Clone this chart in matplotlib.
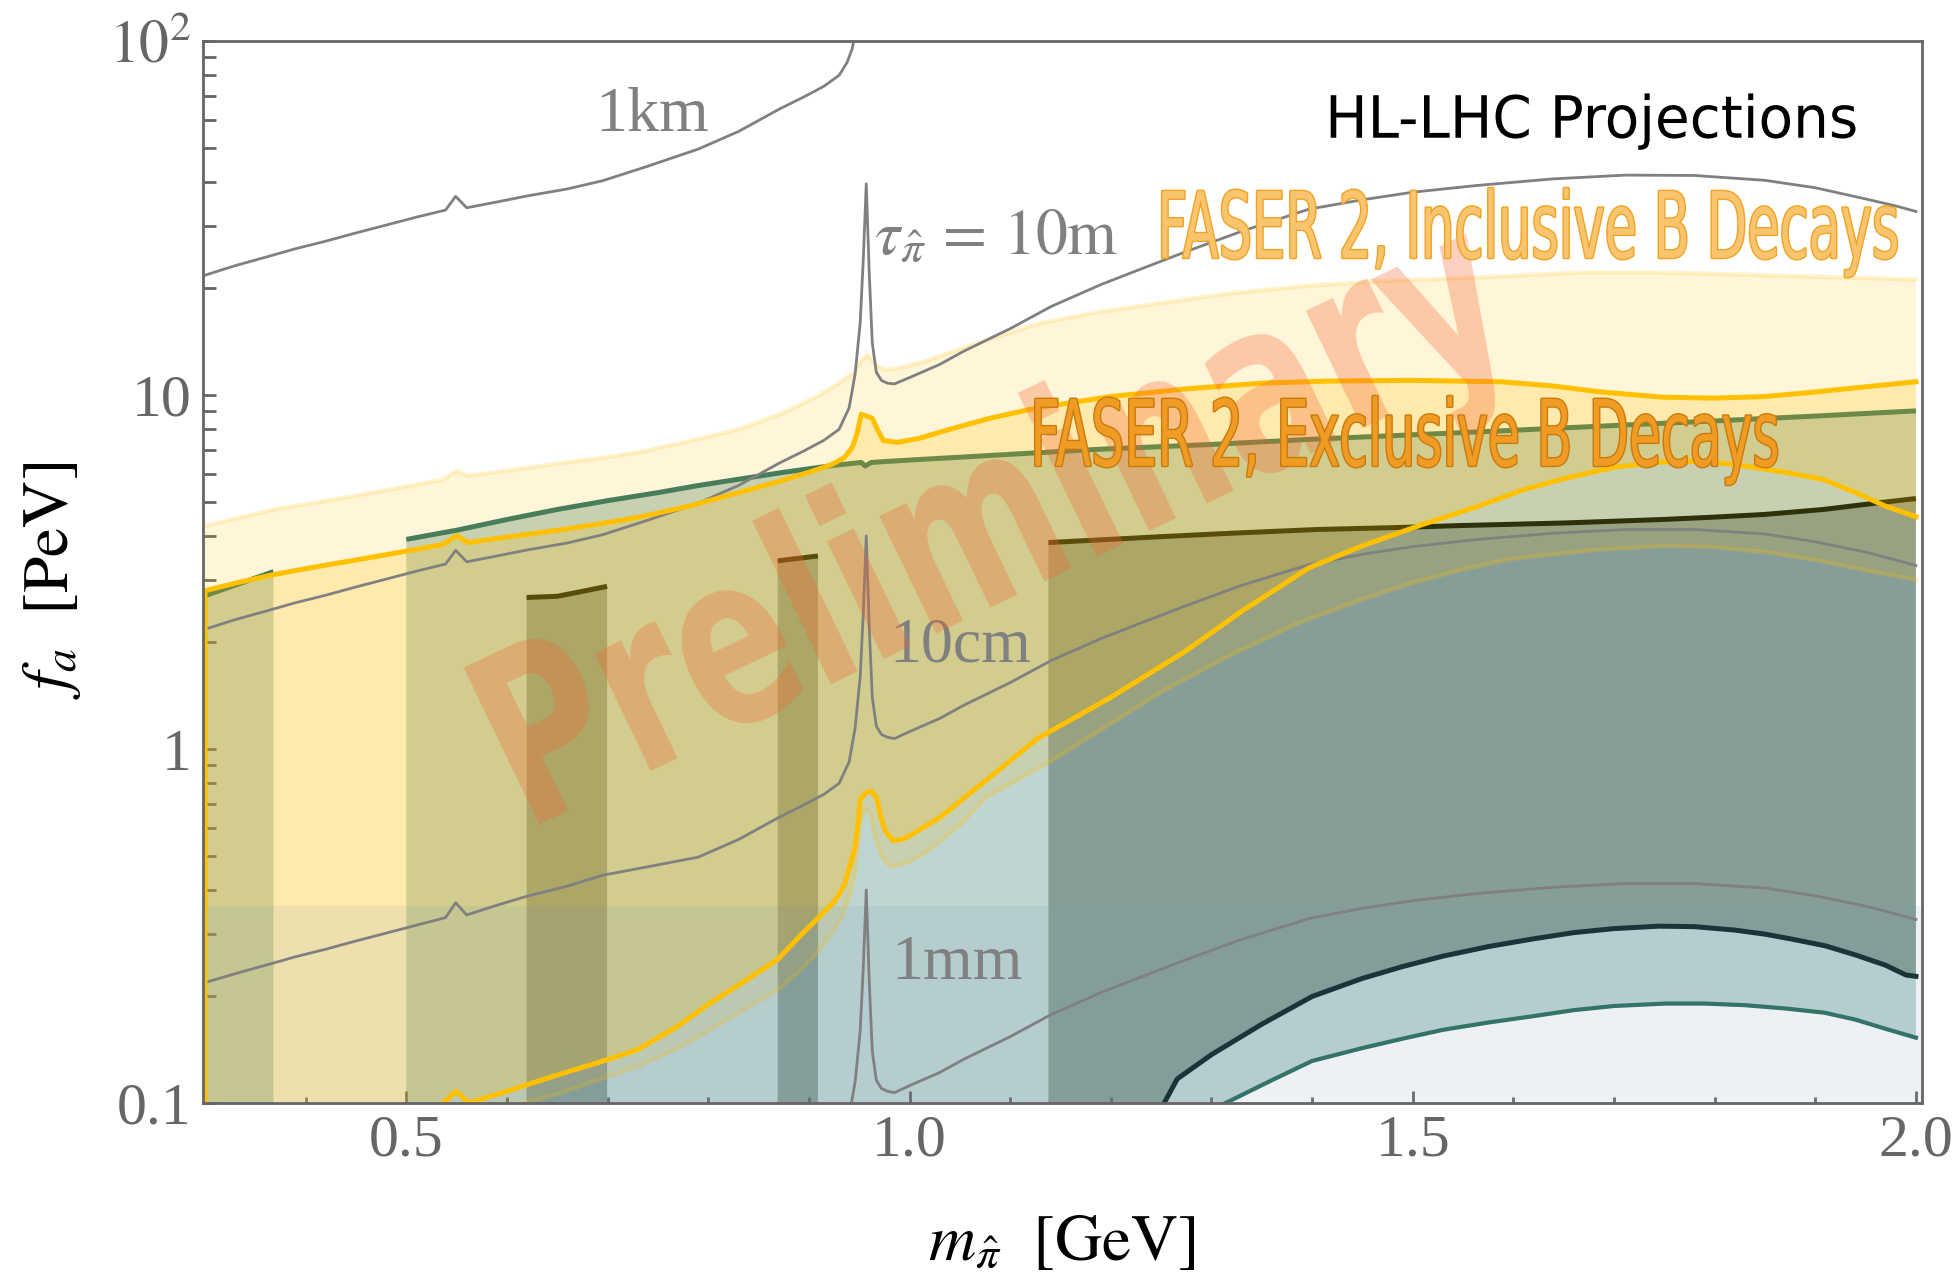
import numpy as np
import matplotlib
matplotlib.use("Agg")
import matplotlib.pyplot as plt
from matplotlib.patheffects import AbstractPathEffect, Normal, Stroke
from matplotlib.transforms import Affine2D
from matplotlib.ticker import FixedLocator, MultipleLocator, LogLocator, NullFormatter

plt.rcParams['font.family'] = ['Liberation Serif', 'DejaVu Serif']
plt.rcParams['mathtext.fontset'] = 'stix'

# ---------------- data (m_pi [GeV], f_a [PeV]) ----------------
# lifetime contours
km1_x = [0.30, 0.33, 0.36, 0.39, 0.42, 0.45, 0.48, 0.51, 0.539, 0.549, 0.56, 0.59, 0.62, 0.66, 0.695,
         0.74, 0.79, 0.83, 0.871, 0.895, 0.915, 0.93, 0.938, 0.943, 0.946, 0.95]
km1_y = [21.8, 23.2, 24.5, 25.9, 27.2, 28.7, 30.2, 31.8, 33.3, 36.4, 33.8, 35.1, 36.5, 38.2, 40.3,
         44.3, 49.5, 55.5, 64.3, 69.5, 74.5, 80.0, 87.0, 95.0, 105.0, 130.0]

m10_x = [0.30, 0.33, 0.36, 0.39, 0.42, 0.45, 0.48, 0.51, 0.539, 0.549, 0.56, 0.59, 0.62, 0.66, 0.695,
         0.74, 0.79, 0.83, 0.871, 0.895, 0.915, 0.93, 0.94, 0.946, 0.951, 0.954, 0.957, 0.960, 0.963,
         0.967, 0.972, 0.978, 0.985, 1.0, 1.03, 1.054, 1.1, 1.141, 1.19, 1.23, 1.273, 1.33, 1.397,
         1.45, 1.5, 1.565, 1.64, 1.712, 1.78, 1.85, 1.9, 1.95, 1.98, 2.0]
m10_y = [2.18, 2.32, 2.45, 2.59, 2.72, 2.87, 3.02, 3.18, 3.33, 3.64, 3.38, 3.51, 3.65, 3.82, 4.03,
         4.43, 4.95, 5.55, 6.43, 6.95, 7.45, 8.0, 9.2, 11.5, 16.0, 24.0, 39.5, 22.0, 14.0,
         11.6, 11.0, 10.8, 10.75, 11.2, 12.2, 13.3, 15.4, 17.8, 20.5, 22.7, 25.3, 29.0, 33.5,
         35.6, 37.4, 39.1, 40.8, 41.8, 41.7, 40.4, 38.5, 35.8, 34.2, 33.0]

cm10_x = [0.30, 0.33, 0.36, 0.39, 0.42, 0.45, 0.48, 0.51, 0.539, 0.549, 0.56, 0.59, 0.62, 0.66, 0.695,
          0.74, 0.79, 0.83, 0.871, 0.895, 0.915, 0.93, 0.94, 0.946, 0.951, 0.954, 0.957, 0.960, 0.963,
          0.967, 0.972, 0.978, 0.985, 1.0, 1.03, 1.054, 1.1, 1.141, 1.19, 1.23, 1.273, 1.33, 1.397,
          1.45, 1.5, 1.565, 1.64, 1.712, 1.78, 1.85, 1.9, 1.95, 1.98, 2.0]
cm10_y = [0.219, 0.232, 0.245, 0.259, 0.272, 0.287, 0.302, 0.318, 0.334, 0.368, 0.340, 0.362, 0.384, 0.41, 0.44,
          0.465, 0.495, 0.555, 0.643, 0.695, 0.745, 0.80, 0.92, 1.15, 1.6, 2.4, 4.0, 2.2, 1.4,
          1.16, 1.1, 1.08, 1.07, 1.12, 1.22, 1.33, 1.54, 1.78, 2.05, 2.27, 2.53, 2.9, 3.32,
          3.55, 3.73, 3.91, 4.07, 4.17, 4.17, 4.05, 3.85, 3.6, 3.42, 3.3]

mm1_x = [0.93, 0.94, 0.946, 0.951, 0.954, 0.957, 0.960, 0.963, 0.967, 0.972, 0.978, 0.985, 1.0, 1.03,
         1.054, 1.1, 1.141, 1.19, 1.23, 1.273, 1.33, 1.397, 1.45, 1.5, 1.565, 1.64, 1.712, 1.78, 1.85,
         1.9, 1.95, 1.98, 2.0]
mm1_y = [0.080, 0.092, 0.115, 0.16, 0.24, 0.40, 0.22, 0.14, 0.116, 0.11, 0.108, 0.107, 0.112, 0.122,
         0.133, 0.154, 0.178, 0.205, 0.227, 0.253, 0.29, 0.332, 0.355, 0.373, 0.391, 0.407, 0.417, 0.417,
         0.405, 0.385, 0.36, 0.342, 0.33]

# FASER 2, inclusive B decays region
incl_up_x = [0.30, 0.33, 0.368, 0.41, 0.45, 0.49, 0.536, 0.55, 0.561, 0.6, 0.65, 0.7, 0.738, 0.78, 0.83,
             0.87, 0.908, 0.93, 0.945, 0.952, 0.958, 0.966, 0.976, 0.995, 1.017, 1.06, 1.127, 1.19, 1.25,
             1.32, 1.39, 1.47, 1.55, 1.668, 1.74, 1.8, 1.9, 2.0]
incl_up_y = [4.27, 4.48, 4.75, 4.97, 5.2, 5.45, 5.77, 6.11, 5.92, 6.12, 6.4, 6.68, 6.96, 7.4, 8.0,
             8.8, 9.9, 10.8, 11.6, 12.5, 13.0, 12.2, 11.8, 12.0, 12.5, 13.8, 15.9, 17.2, 18.2,
             19.4, 20.3, 21.0, 21.4, 22.2, 22.2, 22.0, 21.6, 21.2]
incl_lo_x = [0.30, 0.60, 0.616, 0.65, 0.69, 0.73, 0.77, 0.80, 0.835, 0.869, 0.89, 0.905, 0.92, 0.933,
             0.941, 0.946, 0.951, 0.956, 0.961, 0.966, 0.972, 0.979, 0.984, 1.0, 1.02, 1.05, 1.077,
             1.138, 1.2, 1.25, 1.32, 1.388, 1.45, 1.5, 1.55, 1.6, 1.68, 1.75, 1.8, 1.85, 1.9, 1.95, 2.0]
incl_lo_y = [0.09, 0.09, 0.1, 0.106, 0.116, 0.127, 0.143, 0.16, 0.183, 0.209, 0.235, 0.26, 0.295, 0.337,
             0.39, 0.45, 0.62, 0.68, 0.66, 0.56, 0.5, 0.47, 0.466, 0.48, 0.52, 0.61, 0.734,
             0.916, 1.18, 1.45, 1.85, 2.28, 2.65, 2.95, 3.22, 3.45, 3.65, 3.75, 3.72, 3.6, 3.42, 3.2, 3.01]

# FASER 2, exclusive B decays region
excl_up_x = [0.30, 0.30, 0.33, 0.368, 0.41, 0.45, 0.49, 0.536, 0.55, 0.561, 0.6, 0.65, 0.7, 0.738, 0.78,
             0.83, 0.87, 0.9, 0.922, 0.935, 0.943, 0.948, 0.952, 0.963, 0.968, 0.974, 0.988, 1.01, 1.04,
             1.08, 1.127, 1.2, 1.273, 1.35, 1.418, 1.5, 1.588, 1.64, 1.687, 1.748, 1.8, 1.85, 1.9, 1.95, 2.0]
excl_up_y = [0.09, 2.80, 2.94, 3.11, 3.27, 3.42, 3.58, 3.78, 4.01, 3.83, 3.97, 4.15, 4.36, 4.56, 4.85,
             5.3, 5.7, 6.05, 6.35, 6.65, 7.1, 7.8, 8.83, 8.6, 8.0, 7.44, 7.35, 7.55, 8.0,
             8.6, 9.2, 9.9, 10.4, 10.8, 10.95, 11.0, 10.9, 10.6, 10.2, 9.86, 9.8, 9.9, 10.2, 10.55, 10.9]
excl_lo_x = [0.30, 0.52, 0.537, 0.549, 0.562, 0.60, 0.65, 0.69, 0.73, 0.77, 0.80, 0.835, 0.869, 0.891,
             0.91, 0.925, 0.935, 0.941, 0.946, 0.949, 0.951, 0.956, 0.962, 0.967, 0.971, 0.976, 0.984,
             0.996, 1.03, 1.077, 1.127, 1.2, 1.273, 1.33, 1.397, 1.45, 1.509, 1.565, 1.61, 1.65, 1.7,
             1.748, 1.79, 1.83, 1.87, 1.908, 1.94, 1.97, 2.0]
excl_lo_y = [0.09, 0.09, 0.1, 0.108, 0.1, 0.108, 0.120, 0.13, 0.1415, 0.165, 0.19, 0.22, 0.2545, 0.296,
             0.335, 0.37, 0.41, 0.47, 0.531, 0.62, 0.72, 0.75, 0.76, 0.73, 0.65, 0.585, 0.55,
             0.56, 0.64, 0.82, 1.07, 1.4, 1.88, 2.45, 3.25, 3.75, 4.3, 4.85, 5.4, 5.8, 6.25,
             6.47, 6.5, 6.3, 6.05, 5.77, 5.3, 4.85, 4.53]

# teal/green bounded region
green_a_x = [0.30, 0.368]
green_a_y = [2.71, 3.17]
green_b_x = [0.5, 0.55, 0.6, 0.65, 0.7, 0.75, 0.79, 0.828, 0.875, 0.925, 0.952, 0.956, 0.962, 1.0,
             1.1, 1.19, 1.3, 1.4, 1.5, 1.588, 1.7, 1.8, 1.9, 2.0]
green_b_y = [3.91, 4.15, 4.45, 4.75, 5.03, 5.3, 5.55, 5.77, 6.05, 6.33, 6.45, 6.3, 6.45, 6.55,
             6.8, 7.03, 7.25, 7.5, 7.72, 7.92, 8.2, 8.45, 8.72, 9.02]
floor_y = 0.09
teal_x = [1.314, 1.36, 1.40, 1.45, 1.49, 1.53, 1.576, 1.62, 1.66, 1.70, 1.751, 1.79, 1.83, 1.87,
          1.909, 1.94, 1.97, 2.0]
teal_y = [0.1, 0.116, 0.1315, 0.143, 0.152, 0.161, 0.169, 0.176, 0.183, 0.188, 0.191, 0.191, 0.189, 0.185,
          0.18, 0.172, 0.162, 0.153]

# dark bounded strips
strip1_x = [0.6195, 0.65, 0.6995]
strip1_y = [2.68, 2.70, 2.88]
strip2_x = [0.869, 0.909]
strip2_y = [3.40, 3.51]
strip3_x = [1.138, 1.25, 1.32, 1.405, 1.48, 1.55, 1.65, 1.748, 1.8, 1.85, 1.908, 1.96, 2.0]
strip3_y = [3.83, 3.98, 4.07, 4.17, 4.22, 4.28, 4.35, 4.45, 4.52, 4.6, 4.75, 4.95, 5.1]
black_x = [1.253, 1.266, 1.30, 1.35, 1.40, 1.45, 1.49, 1.53, 1.576, 1.62, 1.66, 1.70, 1.745, 1.78,
           1.82, 1.85, 1.878, 1.91, 1.94, 1.97, 1.99, 2.0]
black_y = [0.1, 0.117, 0.137, 0.167, 0.2, 0.225, 0.243, 0.26, 0.277, 0.291, 0.303, 0.311, 0.316, 0.315,
           0.308, 0.3, 0.29, 0.278, 0.262, 0.245, 0.23, 0.228]

band_lo, band_hi = 0.09, 0.36

xticks = [0.5, 1.0, 1.5, 2.0]
xticklabels = ['0.5', '1.0', '1.5', '2.0']
yticks = [0.1, 1, 10, 100]
yticklabels = ['0.1', '1', '10', r'$10^{2}$']

# ---------------- helpers ----------------
class Stretch(AbstractPathEffect):
    """Stretch glyph outlines vertically about the baseline (condensed-type look)."""
    def __init__(self, sy, effects):
        super().__init__()
        self.sy = sy
        self.effects = effects

    def draw_path(self, renderer, gc, tpath, affine, rgbFace=None):
        aff = Affine2D().scale(1.0, self.sy) + affine
        for pe in self.effects:
            pe.draw_path(renderer, gc, tpath, aff, rgbFace)


fig = plt.figure(figsize=(19.56, 12.73), dpi=100)
ax = fig.add_axes([0.1038, 0.1335, 0.8788, 0.8343])
ax.set_yscale('log')
ax.set_xlim(0.298, 2.006)
ax.set_ylim(0.1, 100)

# teal region
c_teal = '#BED5D2'
ax.fill(green_a_x + green_a_x[::-1], green_a_y + [floor_y, floor_y], color=c_teal, lw=0, zorder=1)
gx = green_b_x + teal_x[::-1] + [green_b_x[0]]
gy = green_b_y + teal_y[::-1] + [floor_y]
ax.fill(gx, gy, color=c_teal, lw=0, zorder=1)
ax.plot(green_a_x, green_a_y, color='#28726A', lw=3.6, zorder=1.1, solid_capstyle='butt')
ax.plot(green_b_x, green_b_y, color='#28726A', lw=3.6, zorder=1.1, solid_capstyle='butt')
ax.plot(teal_x, teal_y, color='#2A6E5F', lw=3.0, zorder=1.3)

# dark strips
c_dark = (33/255, 56/255, 44/255)
for sx_, sy_ in [(strip1_x, strip1_y), (strip2_x, strip2_y)]:
    ax.fill(sx_ + sx_[::-1], sy_ + [floor_y] * len(sx_), color=c_dark, alpha=0.35, lw=0, zorder=1.2)
    ax.plot(sx_, sy_, color='#0A1A0C', lw=3.6, zorder=1.3, solid_capstyle='butt')
s3x = strip3_x + black_x[::-1] + [strip3_x[0]]
s3y = strip3_y + black_y[::-1] + [floor_y]
ax.fill(s3x, s3y, color=c_dark, alpha=0.35, lw=0, zorder=1.2)
ax.plot(strip3_x, strip3_y, color='#0A1A0C', lw=3.6, zorder=1.3, solid_capstyle='butt')
ax.plot(black_x, black_y, color='#0C2828', lw=3.6, zorder=1.3)

# inclusive region
c_y = (1.0, 190/255, 0.0)
ax.fill(incl_up_x + incl_lo_x[::-1], incl_up_y + incl_lo_y[::-1], color=c_y, alpha=0.15, lw=0, zorder=2)
ax.plot(incl_up_x, incl_up_y, color=c_y, alpha=0.18, lw=3.2, zorder=2.1)
ax.plot(incl_lo_x, incl_lo_y, color=c_y, alpha=0.25, lw=3.2, zorder=2.1)

# exclusive region
ax.fill(excl_up_x + excl_lo_x[::-1], excl_up_y + excl_lo_y[::-1], color=c_y, alpha=0.2, lw=0, zorder=2.2)

# lower band
ax.axhspan(band_lo, band_hi, color=(119/255, 151/255, 183/255), alpha=0.125, lw=0, zorder=2.3)

# lifetime contours
for xx, yy in [(km1_x, km1_y), (m10_x, m10_y), (cm10_x, cm10_y), (mm1_x, mm1_y)]:
    ax.plot(xx, yy, color='#808080', lw=2.0, zorder=3)

# exclusive boundary lines
ax.plot(excl_up_x, excl_up_y, color='#FFC000', lw=3.6, zorder=3.5)
ax.plot(excl_lo_x, excl_lo_y, color='#FFC000', lw=3.6, zorder=3.5)

# contour labels
gkw = dict(color='#808080', fontsize=46, ha='left', va='baseline', zorder=4)
ax.text(0.688, 55.7, '1km', **gkw)
ax.text(0.965, 25.1, r'$\tau_{\hat{\pi}}\,=\,10\mathrm{m}$', **gkw)
ax.text(0.980, 1.77, '10cm', **gkw)
ax.text(0.982, 0.2234, '1mm', **gkw)

renderer = fig.canvas.get_renderer()

def place_condensed(x, y, s, target_px, fontsize, effects, rotation=0, **kw):
    """Text whose width matches target_px, with glyphs stretched up to the given size."""
    t = ax.text(x, y, s, fontsize=fontsize, ha='left', va='baseline', rotation_mode='anchor', **kw)
    w = t.get_window_extent(renderer).width
    f2 = fontsize * target_px / w
    t.set_fontsize(f2)
    t.set_path_effects([Stretch(fontsize / f2, effects)])
    if rotation:
        t.set_rotation(rotation)
    return t

# watermark
place_condensed(0.618, 0.585, 'Preliminary', 1110, 172, [Normal()], rotation=25.7,
                family='DejaVu Sans', weight='bold',
                color=(245/255, 100/255, 50/255), alpha=0.3, zorder=5)

place_condensed(1.413, 53.3, 'HL-LHC Projections', 534, 42, [Normal()],
                family='DejaVu Sans', color='black', zorder=6)
place_condensed(1.246, 24.4, 'FASER 2, Inclusive B Decays', 742, 66,
                [Stroke(linewidth=2.0, foreground='#F0A324'), Normal()],
                family='DejaVu Sans', color='#F8C46E', zorder=6)
place_condensed(1.12, 6.31, 'FASER 2, Exclusive B Decays', 749, 66,
                [Stroke(linewidth=2.0, foreground='#C97A0E'), Normal()],
                family='DejaVu Sans', color='#EF9B24', zorder=6)

# axes styling
for sp in ax.spines.values():
    sp.set_color('#666666')
    sp.set_linewidth(2.0)
    sp.set_zorder(10)
ax.xaxis.set_major_locator(FixedLocator(xticks))
ax.set_xticklabels(xticklabels)
ax.xaxis.set_minor_locator(MultipleLocator(0.1))
ax.yaxis.set_major_locator(FixedLocator(yticks))
ax.set_yticklabels(yticklabels)
ax.yaxis.set_minor_locator(LogLocator(base=10, subs=np.arange(2, 10)))
ax.yaxis.set_minor_formatter(NullFormatter())
ax.tick_params(axis='both', which='both', direction='in', color='#666666', width=2.0,
               top=False, right=False, labelcolor='#666666', labelsize=43)
ax.tick_params(axis='x', which='major', length=9, pad=8)
ax.tick_params(axis='x', which='minor', length=4.5)
ax.tick_params(axis='y', which='both', length=9, pad=8)

fig.text(1062 / 1956, 1 - 1260 / 1273, r'$m_{\hat{\pi}}\ \ [\mathrm{GeV}]$', fontsize=47,
         ha='center', va='baseline', color='black')
fig.text(52 / 1956, 1 - 580 / 1273, r'$f_a\ \ [\mathrm{PeV}]$', fontsize=47,
         ha='center', va='center', rotation=90, color='black')

fig.savefig('out.png', dpi=100)
